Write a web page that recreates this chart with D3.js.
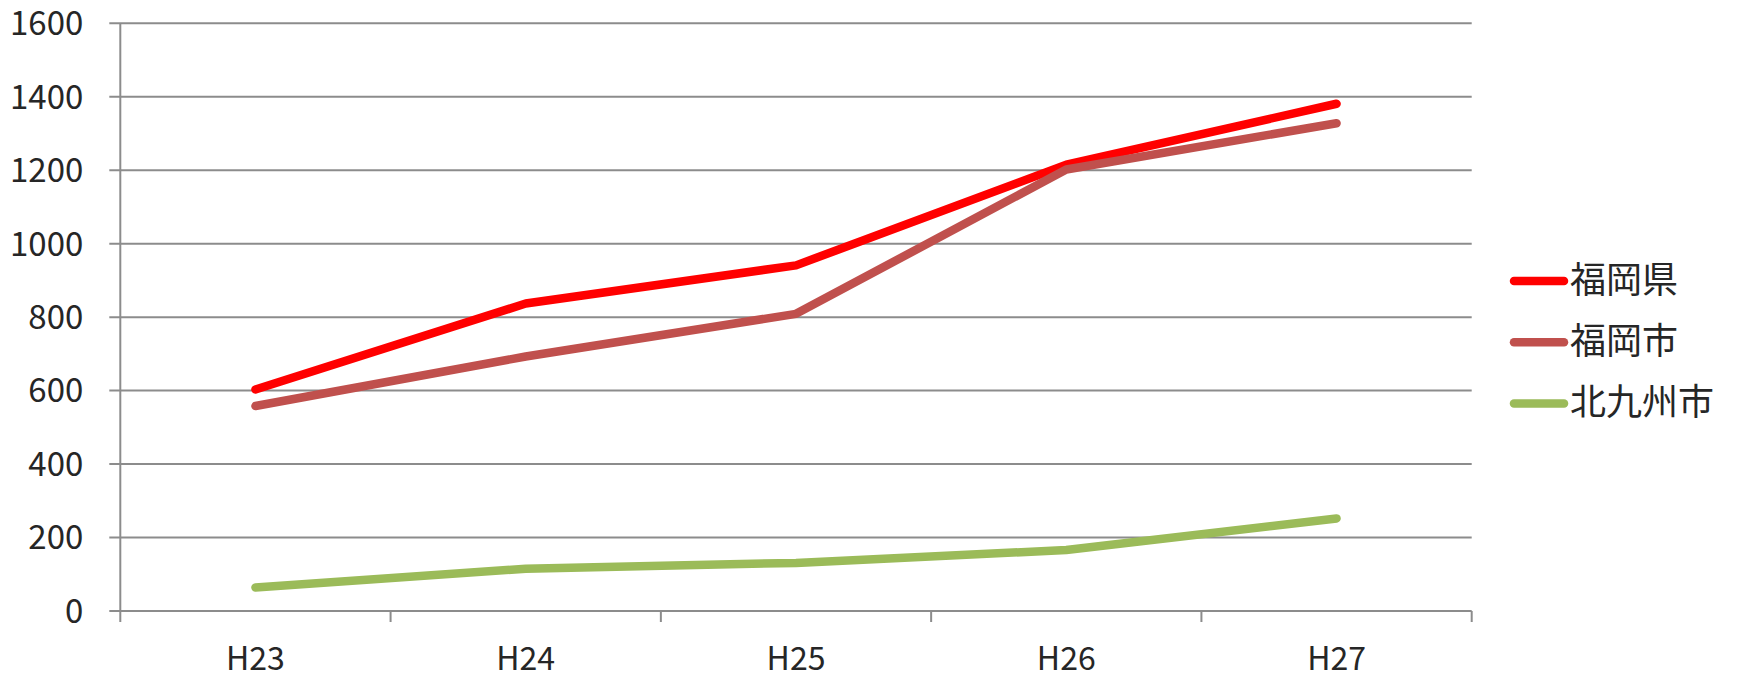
<!DOCTYPE html>
<html>
<head>
<meta charset="utf-8">
<script src="https://cdn.jsdelivr.net/npm/d3@7"></script>
<style>
  body { margin: 0; background: #fff; }
  text { font-family: "Noto Sans CJK JP", "Noto Sans", sans-serif; fill: #262626; }
</style>
</head>
<body>
<div id="chart"></div>
<script>
const width = 1737;
const height = 674;

// data
const years = ['H23', 'H24', 'H25', 'H26', 'H27'];
const fukuokaKen = [603, 837, 941, 1215, 1381];
const fukuokaShi = [558, 693, 809, 1202, 1328];
const kitakyushuShi = [64, 115, 131, 166, 252];
const yTicks = [0, 200, 400, 600, 800, 1000, 1200, 1400, 1600];

const series = [
  {name: '福岡県', values: fukuokaKen, color: '#ff0000'},
  {name: '福岡市', values: fukuokaShi, color: '#c0504d'},
  {name: '北九州市', values: kitakyushuShi, color: '#9bbb59'}
];

const margin = {top: 23.3, left: 120.3, right: width - 1471.7, bottom: height - 611};
const plotW = width - margin.left - margin.right;
const plotH = height - margin.top - margin.bottom;

const svg = d3.select('#chart').append('svg')
  .attr('width', width)
  .attr('height', height);

const g = svg.append('g').attr('transform', 'translate(' + margin.left + ',' + margin.top + ')');

const x = d3.scaleBand().domain(years).range([0, plotW]);
const y = d3.scaleLinear().domain([0, 1600]).range([plotH, 0]);

//gridlines + y labels
g.selectAll('.grid').data(yTicks).enter().append('line')
  .attr('x1', -11).attr('x2', plotW)
  .attr('y1', d => y(d)).attr('y2', d => y(d))
  .attr('stroke', '#8c8c8c').attr('stroke-width', 2);

g.selectAll('.ylab').data(yTicks).enter().append('text')
  .attr('x', -37).attr('y', d => y(d)).attr('dy', '0.36em')
  .attr('text-anchor', 'end')
  .style('font-size', '33px')
  .text(d => d);

//y axis line
g.append('line').attr('x1', 0).attr('x2', 0).attr('y1', 0).attr('y2', plotH + 11)
  .attr('stroke', '#8c8c8c').attr('stroke-width', 2);

//x ticks at category boundaries
const bounds = years.map(d => x(d) + x.bandwidth()).slice(0);
g.selectAll('.xtick').data(bounds).enter().append('line')
  .attr('x1', d => d).attr('x2', d => d)
  .attr('y1', plotH).attr('y2', plotH + 11)
  .attr('stroke', '#8c8c8c').attr('stroke-width', 2);

g.selectAll('.xlab').data(years).enter().append('text')
  .attr('x', d => x(d) + x.bandwidth() / 2)
  .attr('y', plotH + 59)
  .attr('text-anchor', 'middle')
  .style('font-size', '32px')
  .text(d => d);

//lines
const line = d3.line()
  .x((d, i) => x(years[i]) + x.bandwidth() / 2)
  .y(d => y(d));

g.selectAll('.series').data(series).enter().append('path')
  .attr('d', d => line(d.values))
  .attr('fill', 'none')
  .attr('stroke', d => d.color)
  .attr('stroke-width', 8.5)
  .attr('stroke-linecap', 'round')
  .attr('stroke-linejoin', 'round');

//legend
const legend = svg.append('g').attr('transform', 'translate(1510,281)');
const item = legend.selectAll('.item').data(series).enter().append('g')
  .attr('transform', (d, i) => 'translate(0,' + (i * 61.2) + ')');
item.append('line')
  .attr('x1', 4).attr('x2', 54).attr('y1', 0).attr('y2', 0)
  .attr('stroke', d => d.color).attr('stroke-width', 8.5)
  .attr('stroke-linecap', 'round');
item.append('text')
  .attr('x', 60).attr('y', 0).attr('dy', '0.33em')
  .style('font-size', '36px')
  .text(d => d.name);
</script>
</body>
</html>
